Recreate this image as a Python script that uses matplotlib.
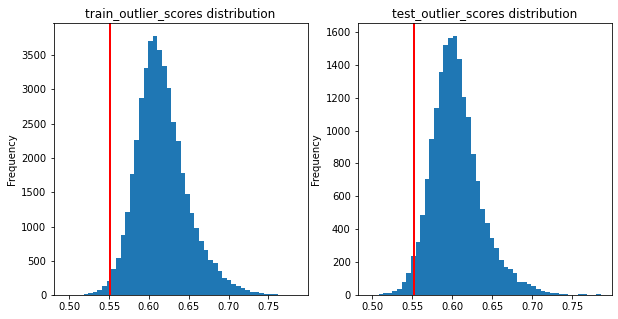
import numpy as np
import matplotlib
matplotlib.use("Agg")
import matplotlib.pyplot as plt

# score range of each set and the per-bin counts (50 bins)
train_min, train_max = 0.4948, 0.7848
test_min, test_max = 0.4962, 0.7855
threshold = 0.5515

train_counts = [1, 1, 3, 6, 15, 29, 44, 78, 136, 209,
                383, 544, 879, 1214, 1767, 2262, 2874, 3310, 3704, 3776,
                3573, 3340, 3019, 2524, 2247, 1777, 1476, 1199, 981, 791,
                660, 515, 471, 354, 252, 223, 165, 136, 107, 78,
                49, 49, 34, 19, 19, 19, 5, 3, 1, 1]

test_counts = [1, 1, 8, 14, 14, 26, 40, 81, 137, 238,
               325, 487, 705, 949, 1135, 1354, 1517, 1560, 1572, 1432,
               1202, 1081, 857, 693, 523, 440, 347, 287, 214, 172,
               158, 135, 81, 81, 69, 57, 38, 26, 20, 14,
               14, 8, 8, 3, 3, 8, 8, 0, 0, 6]

titles = ["train_outlier_scores distribution", "test_outlier_scores distribution"]


def draw_hist(ax, lo, hi, counts, title):
    edges = np.linspace(lo, hi, len(counts) + 1)
    centers = (edges[:-1] + edges[1:]) / 2
    ax.hist(centers, bins=edges, weights=counts, color="C0")
    ax.axvline(threshold, color="red", linewidth=2)
    ax.set_title(title)
    ax.set_ylabel("Frequency")


fig = plt.figure(figsize=(618 / 72, 319 / 72), dpi=72)
ax1 = fig.add_axes([53.5 / 618, 23.7 / 319, 254.2 / 618, 272 / 319])
ax2 = fig.add_axes([357.7 / 618, 23.7 / 319, 254.6 / 618, 272 / 319])

draw_hist(ax1, train_min, train_max, train_counts, titles[0])
draw_hist(ax2, test_min, test_max, test_counts, titles[1])

fig.savefig("out.png", dpi=72)
